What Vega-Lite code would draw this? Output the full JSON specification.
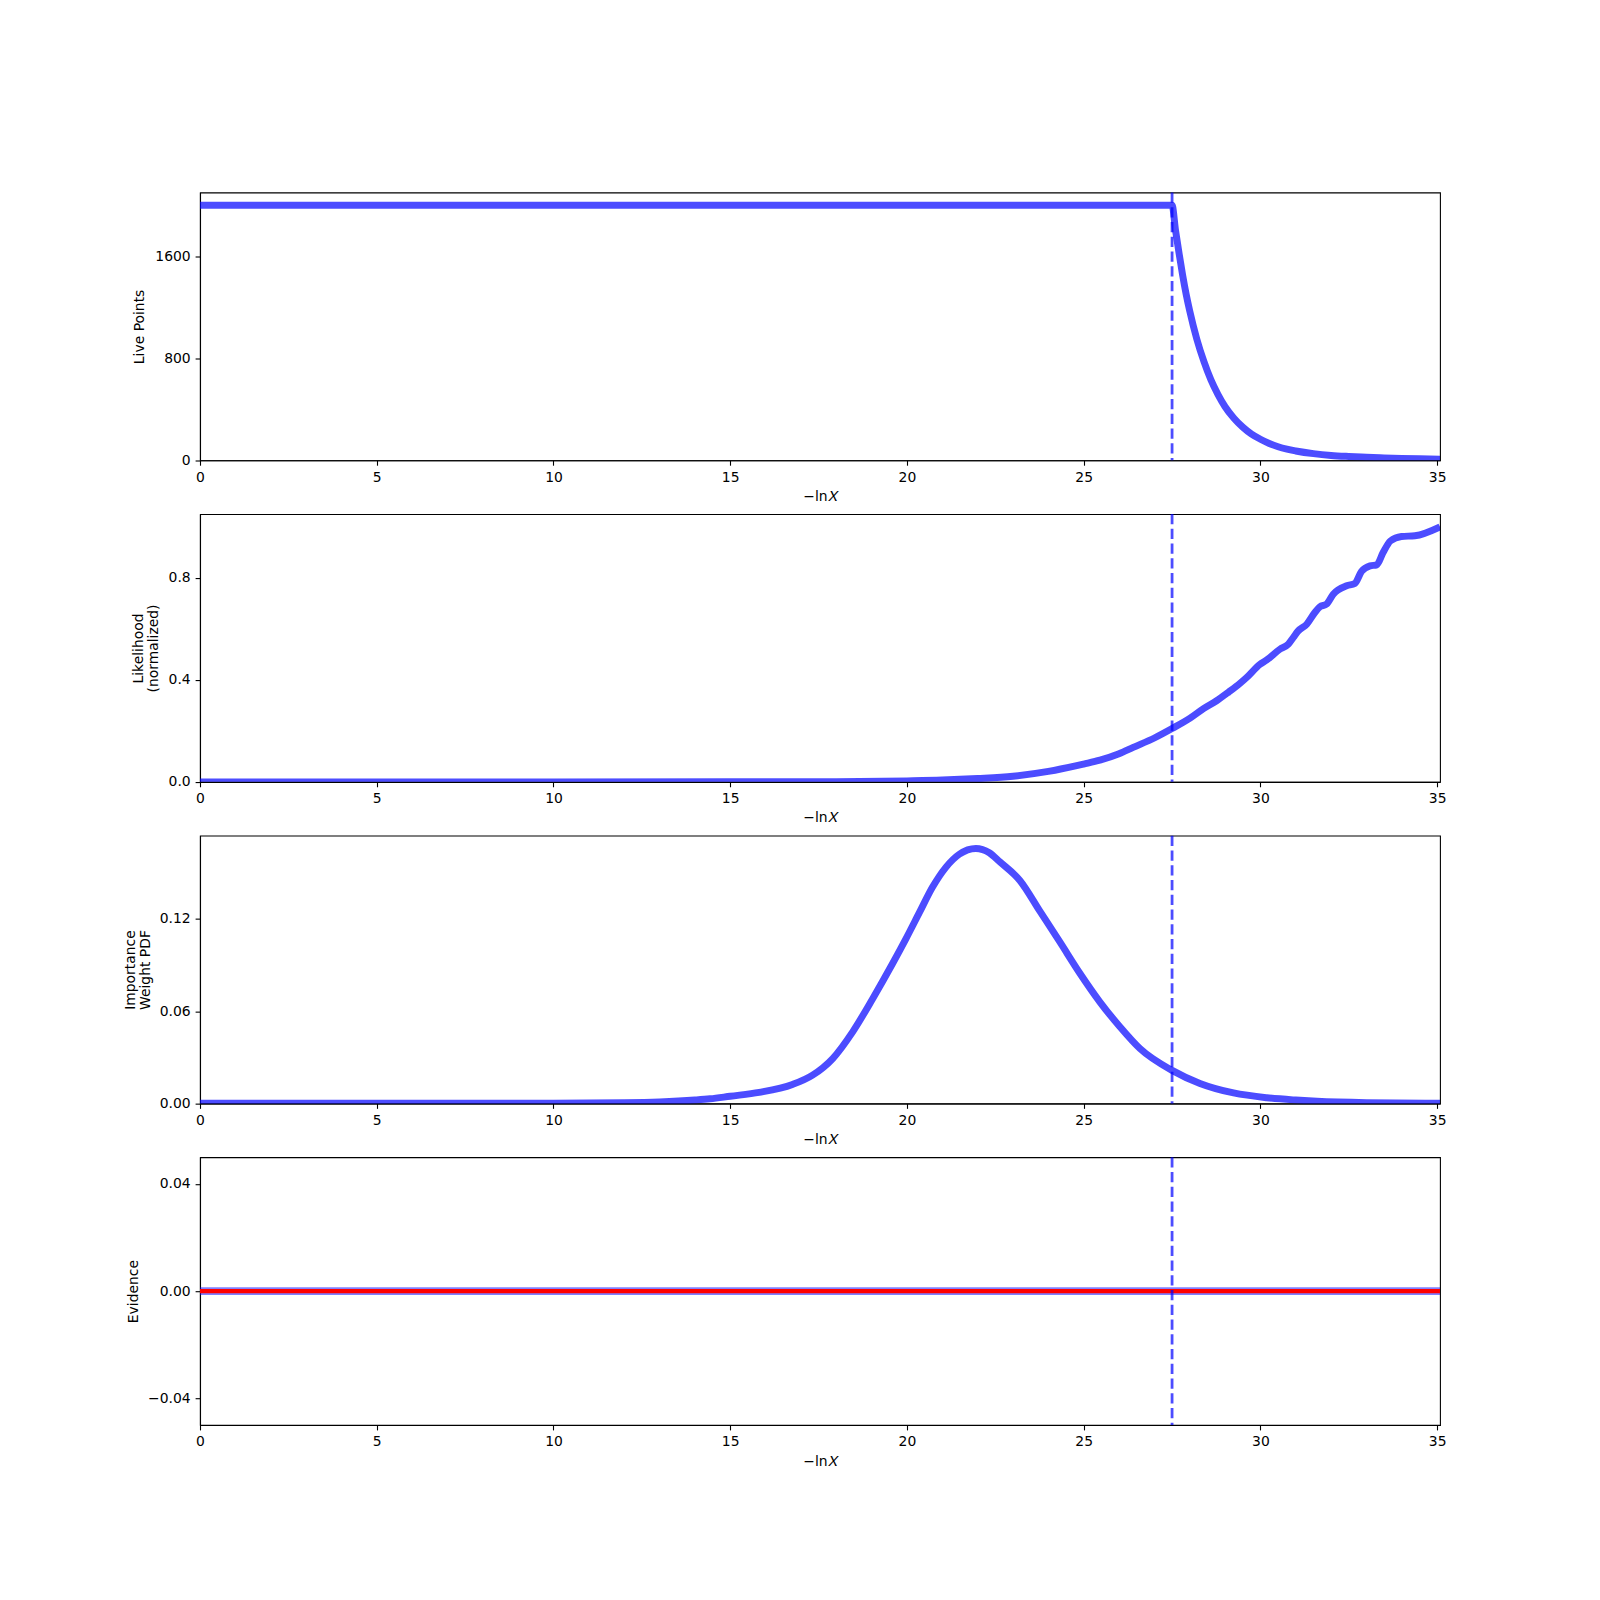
{
  "$schema": "https://vega.github.io/schema/vega-lite/v6.json",
  "autosize": {"type": "pad"},
  "padding": {"left": 122, "top": 190.5, "right": 0, "bottom": 0},
  "background": "white",
  "spacing": 53.57,
  "bounds": "flush",
  "config": {
    "font": "DejaVu Sans",
    "view": {"stroke": "#000000", "strokeWidth": 1.1},
    "axis": {
      "grid": false,
      "domainColor": "#000000",
      "domainWidth": 1.1,
      "tickColor": "#000000",
      "tickWidth": 1.1,
      "tickSize": 4.9,
      "labelFontSize": 13.9,
      "labelColor": "#000000",
      "labelPadding": 4.9,
      "labelFont": "DejaVu Sans",
      "titleFont": "DejaVu Sans",
      "titleFontSize": 13.9,
      "titleFontWeight": "normal",
      "titleColor": "#000000",
      "labelFlush": false,
      "labelOverlap": false,
      "titleLineHeight": 15
    }
  },
  "datasets": {
    "live": [
      {"x": 0, "y": 2000}, {"x": 27.5, "y": 2000}, {"x": 27.6, "y": 1800}, {"x": 27.7, "y": 1620},
      {"x": 27.8, "y": 1450}, {"x": 27.9, "y": 1300}, {"x": 28.0, "y": 1170}, {"x": 28.2, "y": 950},
      {"x": 28.4, "y": 775}, {"x": 28.6, "y": 630}, {"x": 28.8, "y": 515}, {"x": 29.0, "y": 420},
      {"x": 29.25, "y": 330}, {"x": 29.5, "y": 260}, {"x": 29.75, "y": 205}, {"x": 30.0, "y": 165},
      {"x": 30.25, "y": 132}, {"x": 30.5, "y": 106}, {"x": 30.75, "y": 87}, {"x": 31.0, "y": 73},
      {"x": 31.5, "y": 52}, {"x": 32.0, "y": 38}, {"x": 32.5, "y": 30}, {"x": 33.0, "y": 24},
      {"x": 33.5, "y": 19}, {"x": 34.0, "y": 15}, {"x": 34.5, "y": 12}, {"x": 35.08, "y": 9}
    ],
    "like": [
      {"x": 0, "y": 0}, {"x": 10, "y": 0}, {"x": 15, "y": 0.0003}, {"x": 18, "y": 0.001},
      {"x": 20, "y": 0.004}, {"x": 21, "y": 0.007}, {"x": 22, "y": 0.013}, {"x": 23, "y": 0.022},
      {"x": 24, "y": 0.041}, {"x": 25, "y": 0.070}, {"x": 25.46, "y": 0.085}, {"x": 26, "y": 0.110},
      {"x": 26.4, "y": 0.135}, {"x": 27, "y": 0.172}, {"x": 27.5, "y": 0.209}, {"x": 28.01, "y": 0.250},
      {"x": 28.4, "y": 0.288}, {"x": 28.76, "y": 0.318}, {"x": 29.1, "y": 0.352}, {"x": 29.42, "y": 0.386},
      {"x": 29.61, "y": 0.409}, {"x": 29.99, "y": 0.461}, {"x": 30.17, "y": 0.477}, {"x": 30.55, "y": 0.520},
      {"x": 30.79, "y": 0.540}, {"x": 30.93, "y": 0.566}, {"x": 31.07, "y": 0.592}, {"x": 31.31, "y": 0.618},
      {"x": 31.54, "y": 0.664}, {"x": 31.68, "y": 0.686}, {"x": 31.87, "y": 0.697}, {"x": 32.06, "y": 0.736},
      {"x": 32.44, "y": 0.769}, {"x": 32.67, "y": 0.778}, {"x": 32.86, "y": 0.825}, {"x": 33.10, "y": 0.847},
      {"x": 33.29, "y": 0.851}, {"x": 33.47, "y": 0.899}, {"x": 33.68, "y": 0.945}, {"x": 33.99, "y": 0.962},
      {"x": 34.37, "y": 0.965}, {"x": 35.08, "y": 1.0}
    ],
    "weight": [
      {"x": 0, "y": 0.0001}, {"x": 10, "y": 0.0002}, {"x": 12, "y": 0.0005}, {"x": 13, "y": 0.001},
      {"x": 14, "y": 0.0022}, {"x": 14.43, "y": 0.003}, {"x": 15, "y": 0.0047}, {"x": 15.82, "y": 0.0072},
      {"x": 16.76, "y": 0.0123}, {"x": 17.33, "y": 0.0184}, {"x": 17.9, "y": 0.0292}, {"x": 18.46, "y": 0.0464},
      {"x": 19.03, "y": 0.0681}, {"x": 19.59, "y": 0.0908}, {"x": 19.97, "y": 0.107}, {"x": 20.35, "y": 0.124},
      {"x": 20.72, "y": 0.1405}, {"x": 21.1, "y": 0.1535}, {"x": 21.48, "y": 0.162}, {"x": 21.95, "y": 0.1658},
      {"x": 22.33, "y": 0.163}, {"x": 22.63, "y": 0.157}, {"x": 23.2, "y": 0.1448}, {"x": 23.76, "y": 0.125},
      {"x": 24.33, "y": 0.1048}, {"x": 24.9, "y": 0.0843}, {"x": 25.46, "y": 0.0659}, {"x": 26.03, "y": 0.0497},
      {"x": 26.59, "y": 0.0357}, {"x": 27.5, "y": 0.0215}, {"x": 28.29, "y": 0.013}, {"x": 29.24, "y": 0.0068},
      {"x": 30.18, "y": 0.0037}, {"x": 31.0, "y": 0.0022}, {"x": 31.6, "y": 0.0014}, {"x": 33, "y": 0.0005},
      {"x": 35.08, "y": 0.0001}
    ],
    "evidence": [
      {"x": 0, "z": 0, "lo": -0.00143, "hi": 0.00143},
      {"x": 35.08, "z": 0, "lo": -0.00143, "hi": 0.00143}
    ],
    "vline": [{"x": 27.5}]
  },
  "vconcat": [
    {
      "width": 1240, "height": 267.8,
      "layer": [
        {
          "data": {"name": "live"},
          "mark": {"type": "line", "color": "#0000ff", "opacity": 0.7, "strokeWidth": 6.94, "clip": true, "strokeJoin": "round", "interpolate": "monotone"},
          "encoding": {
            "x": {"field": "x", "type": "quantitative", "scale": {"domain": [0, 35.08], "nice": false, "zero": false},
                  "axis": {"title": "−ln𝑋", "values": [0, 5, 10, 15, 20, 25, 30, 35], "format": "d", "titleY": 36, "titleBaseline": "middle"}},
            "y": {"field": "y", "type": "quantitative", "scale": {"domain": [0, 2100], "nice": false},
                  "axis": {"title": "Live Points", "values": [0, 800, 1600], "format": "d", "titleX": -61, "titleY": 133.9, "titleAngle": -90, "titleAlign": "center", "titleBaseline": "middle"}}
          }
        },
        {
          "data": {"name": "vline"},
          "mark": {"type": "rule", "color": "#0000ff", "opacity": 0.7, "strokeWidth": 2.78, "strokeDash": [10.3, 4.45]},
          "encoding": {"x": {"field": "x", "type": "quantitative"}}
        }
      ]
    },
    {
      "width": 1240, "height": 267.8,
      "layer": [
        {
          "data": {"name": "like"},
          "mark": {"type": "line", "color": "#0000ff", "opacity": 0.7, "strokeWidth": 6.94, "clip": true, "strokeJoin": "round", "interpolate": "monotone"},
          "encoding": {
            "x": {"field": "x", "type": "quantitative", "scale": {"domain": [0, 35.08], "nice": false, "zero": false},
                  "axis": {"title": "−ln𝑋", "values": [0, 5, 10, 15, 20, 25, 30, 35], "format": "d", "titleY": 36, "titleBaseline": "middle"}},
            "y": {"field": "y", "type": "quantitative", "scale": {"domain": [0, 1.05], "nice": false},
                  "axis": {"title": ["Likelihood", "(normalized)"], "values": [0, 0.4, 0.8], "format": ".1f", "titleX": -61.7, "titleY": 133.9, "titleAngle": -90, "titleAlign": "center", "titleBaseline": "middle"}}
          }
        },
        {
          "data": {"name": "vline"},
          "mark": {"type": "rule", "color": "#0000ff", "opacity": 0.7, "strokeWidth": 2.78, "strokeDash": [10.3, 4.45]},
          "encoding": {"x": {"field": "x", "type": "quantitative"}}
        }
      ]
    },
    {
      "width": 1240, "height": 267.8,
      "layer": [
        {
          "data": {"name": "weight"},
          "mark": {"type": "line", "color": "#0000ff", "opacity": 0.7, "strokeWidth": 6.94, "clip": true, "strokeJoin": "round", "interpolate": "monotone"},
          "encoding": {
            "x": {"field": "x", "type": "quantitative", "scale": {"domain": [0, 35.08], "nice": false, "zero": false},
                  "axis": {"title": "−ln𝑋", "values": [0, 5, 10, 15, 20, 25, 30, 35], "format": "d", "titleY": 36, "titleBaseline": "middle"}},
            "y": {"field": "y", "type": "quantitative", "scale": {"domain": [0, 0.1741], "nice": false},
                  "axis": {"title": ["Importance", "Weight PDF"], "values": [0, 0.06, 0.12], "format": ".2f", "titleX": -70, "titleY": 133.9, "titleAngle": -90, "titleAlign": "center", "titleBaseline": "middle"}}
          }
        },
        {
          "data": {"name": "vline"},
          "mark": {"type": "rule", "color": "#0000ff", "opacity": 0.7, "strokeWidth": 2.78, "strokeDash": [10.3, 4.45]},
          "encoding": {"x": {"field": "x", "type": "quantitative"}}
        }
      ]
    },
    {
      "width": 1240, "height": 267.8,
      "layer": [
        {
          "data": {"name": "evidence"},
          "mark": {"type": "area", "color": "#0000ff", "opacity": 0.5, "clip": true},
          "encoding": {
            "x": {"field": "x", "type": "quantitative", "scale": {"domain": [0, 35.08], "nice": false, "zero": false},
                  "axis": {"title": "−ln𝑋", "values": [0, 5, 10, 15, 20, 25, 30, 35], "format": "d", "titleY": 36, "titleBaseline": "middle"}},
            "y": {"field": "lo", "type": "quantitative", "scale": {"domain": [-0.05, 0.05], "nice": false, "zero": false},
                  "axis": {"title": "Evidence", "values": [-0.04, 0, 0.04], "format": ".2f", "titleX": -66.7, "titleY": 133.9, "titleAngle": -90, "titleAlign": "center", "titleBaseline": "middle"}},
            "y2": {"field": "hi"}
          }
        },
        {
          "data": {"name": "evidence"},
          "mark": {"type": "line", "color": "#ff0000", "strokeWidth": 4.2, "clip": true},
          "encoding": {
            "x": {"field": "x", "type": "quantitative"},
            "y": {"field": "z", "type": "quantitative"}
          }
        },
        {
          "data": {"name": "vline"},
          "mark": {"type": "rule", "color": "#0000ff", "opacity": 0.7, "strokeWidth": 2.78, "strokeDash": [10.3, 4.45]},
          "encoding": {"x": {"field": "x", "type": "quantitative"}}
        }
      ]
    }
  ]
}
